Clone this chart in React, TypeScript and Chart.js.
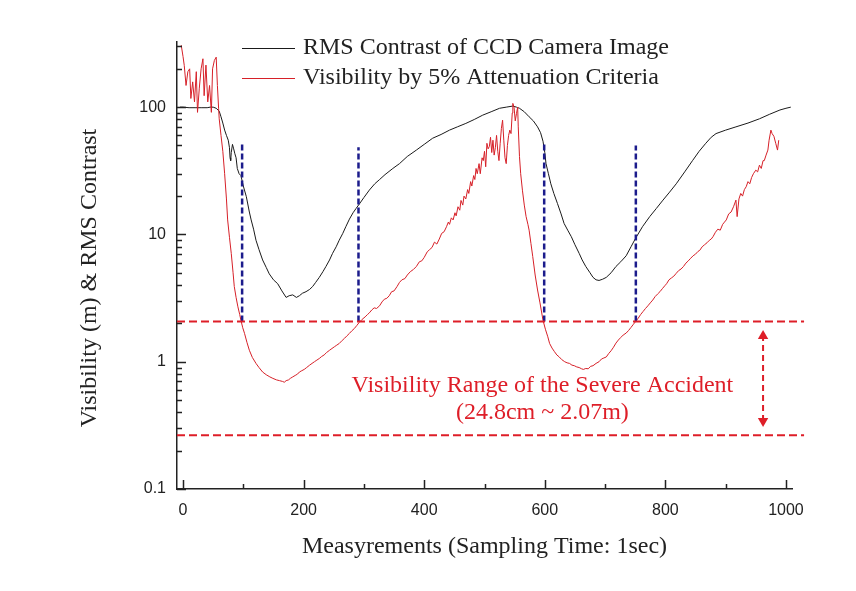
import React, { useEffect, useRef } from 'react';
import { Chart, registerables } from 'chart.js';

Chart.register(...registerables);

const blackX = [-5, 0, 10, 20, 30, 40, 45, 50, 55, 60, 63, 66, 69, 72, 75, 77, 78, 79, 80, 82, 84, 86, 88, 90, 93, 96, 100, 105, 110, 113, 117, 121, 126, 132, 138, 143, 150, 157, 164, 171, 176, 182, 188, 193, 198, 204, 210, 215, 220, 226, 232, 237, 243, 248, 254, 259, 265, 270, 276, 282, 287, 293, 300, 309, 318, 326, 335, 348, 359, 372, 387, 400, 414, 428, 442, 455, 469, 483, 497, 511, 525, 536, 547, 553, 558, 566, 574, 581, 588, 593, 597, 600, 602, 606, 610, 615, 621, 627, 632, 638, 644, 650, 657, 662, 668, 675, 680, 685, 690, 696, 702, 710, 718, 726, 735, 743, 751, 762, 774, 785, 796, 807, 818, 832, 845, 856, 867, 876, 884, 900, 917, 937, 956, 973, 990, 1000, 1008];
const blackY = [100, 100, 99, 99, 99, 99, 100, 100, 98, 93, 84, 75, 66, 60, 55, 48, 40, 38, 44, 51, 47, 43, 40, 33, 30, 29, 24, 19.8, 15, 13, 11, 9.0, 7.6, 6.3, 5.5, 4.9, 4.4, 4.1, 3.6, 3.2, 3.3, 3.35, 3.2, 3.3, 3.45, 3.55, 3.7, 3.9, 4.2, 4.6, 5.1, 5.6, 6.3, 7.1, 8.0, 9.0, 10.2, 11.5, 13.2, 14.8, 16, 17.5, 19.5, 22.3, 25, 27, 29.5, 33, 36, 41, 46, 51, 57, 61, 66, 70, 74.5, 80, 86.5, 92, 98, 100, 102, 100, 98, 92, 84, 78, 70, 63, 54, 44, 36, 30, 25, 21, 17.5, 14.5, 12.2, 10.8, 9.6, 8.3, 7.1, 6.3, 5.6, 5.0, 4.6, 4.4, 4.35, 4.45, 4.6, 5.0, 5.6, 6.1, 6.8, 8.0, 9.4, 11.5, 13.8, 16, 18.6, 21.5, 25, 31, 38, 45, 52, 58, 62, 66, 70, 75, 81, 88, 95, 98, 100];

const redX = [-3, 0, 2, 5, 8, 11, 13, 16, 19, 22, 24, 27, 30, 33, 35, 38, 41, 44, 47, 49, 52, 55, 57, 59, 60, 63, 66, 69, 72, 74, 77, 80, 83, 85, 88, 91, 94, 96, 99, 102, 106, 110, 115, 121, 126, 132, 138, 144, 149, 155, 160, 165, 168, 171, 175, 178, 182, 186, 190, 193, 197, 201, 205, 210, 214, 218, 222, 226, 230, 234, 238, 243, 247, 251, 255, 259, 264, 268, 272, 276, 280, 284, 288, 292, 297, 302, 306, 309, 313, 317, 321, 326, 330, 334, 338, 342, 346, 350, 355, 359, 363, 368, 372, 377, 382, 387, 392, 396, 400, 405, 409, 413, 417, 421, 425, 429, 433, 437, 440, 442, 445, 448, 451, 453, 456, 459, 461, 464, 466, 469, 472, 474, 477, 479, 482, 484, 486, 488, 491, 493, 496, 498, 500, 502, 504, 506, 508, 510, 512, 514, 516, 518, 520, 522, 524, 526, 528, 530, 532, 534, 536, 538, 540, 542, 544, 546, 547, 549, 551, 553, 555, 556, 558, 560, 563, 566, 569, 572, 574, 577, 580, 584, 588, 592, 597, 601, 605, 608, 612, 616, 620, 624, 628, 633, 637, 641, 645, 649, 653, 657, 661, 664, 668, 672, 676, 680, 685, 690, 694, 698, 702, 706, 710, 714, 718, 722, 726, 730, 735, 739, 743, 747, 751, 755, 759, 763, 767, 771, 775, 779, 783, 787, 791, 795, 799, 802, 806, 810, 814, 818, 822, 826, 830, 834, 838, 842, 846, 850, 854, 857, 861, 865, 869, 873, 876, 879, 883, 887, 891, 895, 898, 901, 905, 909, 913, 917, 919, 922, 925, 928, 931, 934, 937, 940, 943, 946, 950, 953, 956, 959, 962, 964, 967, 970, 972, 975, 977, 980, 983, 986, 988];
const redY = [307, 250, 213, 148, 190, 200, 117, 158, 110, 190, 91, 141, 200, 240, 123, 214, 110, 148, 91, 200, 233, 247, 148, 98, 81, 60, 45, 30, 19, 13, 9.5, 7.1, 5.0, 3.9, 3.2, 2.7, 2.35, 2.12, 1.85, 1.67, 1.42, 1.23, 1.08, 0.97, 0.90, 0.83, 0.79, 0.76, 0.74, 0.72, 0.71, 0.70, 0.69, 0.71, 0.72, 0.74, 0.76, 0.78, 0.80, 0.83, 0.85, 0.87, 0.90, 0.94, 0.97, 1.0, 1.03, 1.06, 1.10, 1.13, 1.18, 1.23, 1.27, 1.31, 1.35, 1.39, 1.47, 1.53, 1.60, 1.67, 1.75, 1.82, 1.92, 2.03, 2.15, 2.25, 2.35, 2.42, 2.55, 2.65, 2.62, 2.75, 2.95, 3.1, 3.15, 3.3, 3.55, 3.6, 3.9, 4.2, 4.4, 4.5, 4.8, 5.1, 5.3, 5.6, 6.1, 6.2, 6.6, 7.3, 7.6, 7.9, 8.7, 8.4, 9.2, 10.2, 10.5, 11.5, 12.5, 12.0, 13.5, 13.0, 14.8, 14.0, 16.5, 15.5, 18.5, 17.0, 20, 19, 22.5, 21, 26, 24, 29, 27, 33, 30, 36, 30, 40, 38, 45, 34, 52, 47, 49, 58, 44, 55, 42, 48, 60, 45, 38, 52, 68, 79, 55, 40, 36, 50, 60, 66, 62, 90, 107, 100, 78, 89, 100, 70, 41, 30, 22, 17, 13.8, 12, 10.8, 8.5, 6.7, 4.8, 3.66, 2.9, 2.12, 1.8, 1.57, 1.39, 1.28, 1.2, 1.13, 1.09, 1.04, 1.0, 0.98, 0.97, 0.94, 0.93, 0.91, 0.90, 0.88, 0.87, 0.885, 0.88, 0.92, 0.93, 0.97, 1.0, 1.05, 1.07, 1.09, 1.16, 1.22, 1.30, 1.40, 1.48, 1.55, 1.62, 1.68, 1.76, 1.86, 1.97, 2.08, 2.2, 2.35, 2.48, 2.62, 2.75, 2.9, 3.05, 3.25, 3.4, 3.55, 3.75, 3.95, 4.1, 4.4, 4.55, 4.7, 4.95, 5.2, 5.35, 5.6, 5.95, 6.2, 6.5, 6.8, 7.0, 7.35, 7.5, 8.0, 8.3, 8.6, 9.0, 9.2, 9.6, 10.4, 11.0, 10.8, 12.0, 12.5, 13, 14.5, 15, 16.5, 18.6, 13.8, 19, 21, 20, 22.5, 23.7, 26, 25, 28, 30, 32, 31, 35, 33, 38, 38, 42, 46, 55, 66, 62, 59, 52, 46, 55];

// Reference levels and markers
const rangeLevels = [2.07, 0.265];
const rangeXSpan = [-10, 1030];
const blueX = [98, 291, 599, 751];
const blueTop = [52, 48.5, 52, 50];
const blueBottom = 2.07;
const arrowX = 962;
const arrowY = [0.342, 1.59];

const xTicks = [0, 200, 400, 600, 800, 1000];
const xMinorTicks = [100, 300, 500, 700, 900];
const yTicks = [0.1, 1, 10, 100];
const yMinorTicks = [0.2, 0.3, 0.4, 0.5, 0.6, 0.7, 0.8, 0.9, 2, 3, 4, 5, 6, 7, 8, 9, 20, 30, 40, 50, 60, 70, 80, 90, 200, 300];

const legendLabels = ['RMS Contrast of CCD Camera Image', 'Visibility by 5% Attenuation Criteria'];
const annotationLines = ['Visibility Range of the Severe Accident', '(24.8cm ~ 2.07m)'];
const annotationX = 596;
const annotationY = [0.648, 0.398];

const SANS = '"Liberation Sans", Arial, sans-serif';
const SERIF = '"Liberation Serif", "Times New Roman", serif';
const BLACK = '#1a1a1a';
const RED = 'rgb(214, 32, 40)';
const DASH_RED = 'rgb(222, 30, 40)';
const NAVY = 'rgb(28, 28, 140)';

const overlayPlugin = {
  id: 'overlay',
  afterDraw(chart: any) {
    const ctx = chart.ctx;
    const xs = chart.scales.x;
    const ys = chart.scales.y;
    const area = chart.chartArea;
    ctx.save();
    // inward ticks
    ctx.strokeStyle = '#222';
    ctx.lineWidth = 1.5;
    ctx.beginPath();
    xTicks.forEach((v) => {
      const px = Math.round(xs.getPixelForValue(v)) + 0.5;
      ctx.moveTo(px, area.bottom);
      ctx.lineTo(px, area.bottom - 9);
    });
    xMinorTicks.forEach((v) => {
      const px = Math.round(xs.getPixelForValue(v)) + 0.5;
      ctx.moveTo(px, area.bottom);
      ctx.lineTo(px, area.bottom - 5);
    });
    yTicks.forEach((v) => {
      const py = Math.round(ys.getPixelForValue(v)) + 0.5;
      ctx.moveTo(area.left, py);
      ctx.lineTo(area.left + 9, py);
    });
    yMinorTicks.forEach((v) => {
      const py = Math.round(ys.getPixelForValue(v)) + 0.5;
      ctx.moveTo(area.left, py);
      ctx.lineTo(area.left + 5, py);
    });
    ctx.stroke();

    // legend
    ctx.lineWidth = 1;
    const legendColors = [BLACK, RED];
    ctx.font = `24px ${SERIF}`;
    ctx.textBaseline = 'middle';
    ctx.textAlign = 'left';
    legendLabels.forEach((label, i) => {
      const y = 40 + i * 30;
      ctx.strokeStyle = legendColors[i];
      ctx.beginPath();
      ctx.moveTo(234, y + 0.5);
      ctx.lineTo(287, y + 0.5);
      ctx.stroke();
      ctx.fillStyle = '#222';
      ctx.fillText(label, 295, y);
    });

    // annotation text
    ctx.fillStyle = DASH_RED;
    ctx.textAlign = 'center';
    annotationLines.forEach((t, i) => {
      ctx.fillText(t, xs.getPixelForValue(annotationX), ys.getPixelForValue(annotationY[i]));
    });

    // y axis title
    ctx.fillStyle = '#222';
    ctx.translate(82, 270);
    ctx.rotate(-Math.PI / 2);
    ctx.textAlign = 'center';
    ctx.fillText('Visibility (m) & RMS Contrast', 0, 0);
    ctx.restore();
  },
};

export default function App() {
  const ref = useRef<HTMLCanvasElement | null>(null);
  useEffect(() => {
    if (!ref.current) return;
    const toPts = (xs: number[], ys: number[]) => xs.map((x, i) => ({ x, y: ys[i] }));
    const datasets: any[] = [];
    rangeLevels.forEach((lv) => {
      datasets.push({
        data: rangeXSpan.map((x) => ({ x, y: lv })),
        borderColor: DASH_RED,
        borderWidth: 2,
        borderDash: [8, 4],
        pointRadius: 0,
        clip: false,
        order: 0,
      });
    });
    blueX.forEach((bx, i) => {
      datasets.push({
        data: [{ x: bx, y: blueBottom }, { x: bx, y: blueTop[i] }],
        borderColor: NAVY,
        borderWidth: 2.5,
        borderDash: [6, 3],
        pointRadius: 0,
        order: 0,
      });
    });
    datasets.push({
      data: arrowY.map((y) => ({ x: arrowX, y })),
      borderColor: DASH_RED,
      borderWidth: 2,
      borderDash: [6, 4],
      pointStyle: 'triangle',
      pointRadius: 6,
      pointRotation: [180, 0],
      pointBackgroundColor: DASH_RED,
      pointBorderColor: DASH_RED,
      pointBorderWidth: 0,
      order: 0,
    });
    datasets.push({
      data: toPts(redX, redY),
      borderColor: RED,
      borderWidth: 1,
      pointRadius: 0,
      order: 1,
    });
    datasets.push({
      data: toPts(blackX, blackY),
      borderColor: BLACK,
      borderWidth: 1,
      pointRadius: 0,
      order: 2,
    });

    const chart = new Chart(ref.current, {
      type: 'line',
      data: { datasets },
      plugins: [overlayPlugin],
      options: {
        animation: false,
        responsive: true,
        maintainAspectRatio: false,
        layout: { padding: { top: 34, right: 56, left: 0, bottom: 0 } },
        plugins: { legend: { display: false }, tooltip: { enabled: false } },
        elements: { line: { tension: 0 } },
        scales: {
          x: {
            type: 'linear',
            min: -10,
            max: 1010,
            afterBuildTicks: (s: any) => {
              s.ticks = xTicks.map((v) => ({ value: v }));
            },
            afterFit: (s: any) => {
              s.height = 94;
            },
            ticks: {
              font: { family: SANS, size: 16 },
              color: '#222',
              padding: 12,
              maxRotation: 0,
              autoSkip: false,
              callback: (v: any) => String(v),
            },
            grid: { drawOnChartArea: false, drawTicks: false },
            border: { color: '#222', width: 1.5 },
            title: {
              display: true,
              text: 'Measyrements (Sampling Time: 1sec)',
              font: { family: SERIF, size: 24 },
              color: '#222',
              padding: { top: 0, bottom: 22 },
            },
          },
          y: {
            type: 'logarithmic',
            min: 0.1,
            max: 325,
            afterBuildTicks: (s: any) => {
              s.ticks = yTicks.map((v) => ({ value: v }));
            },
            afterFit: (s: any) => {
              s.width = 169;
            },
            ticks: {
              font: { family: SANS, size: 16 },
              color: '#222',
              padding: 11,
              callback: (v: any) => String(v),
            },
            grid: { drawOnChartArea: false, drawTicks: false },
            border: { color: '#222', width: 1.5 },
          },
        },
      },
    });
    return () => chart.destroy();
  }, []);
  return (
    <div style={{ width: 840, height: 575, position: 'relative' }}>
      <canvas ref={ref} />
    </div>
  );
}
